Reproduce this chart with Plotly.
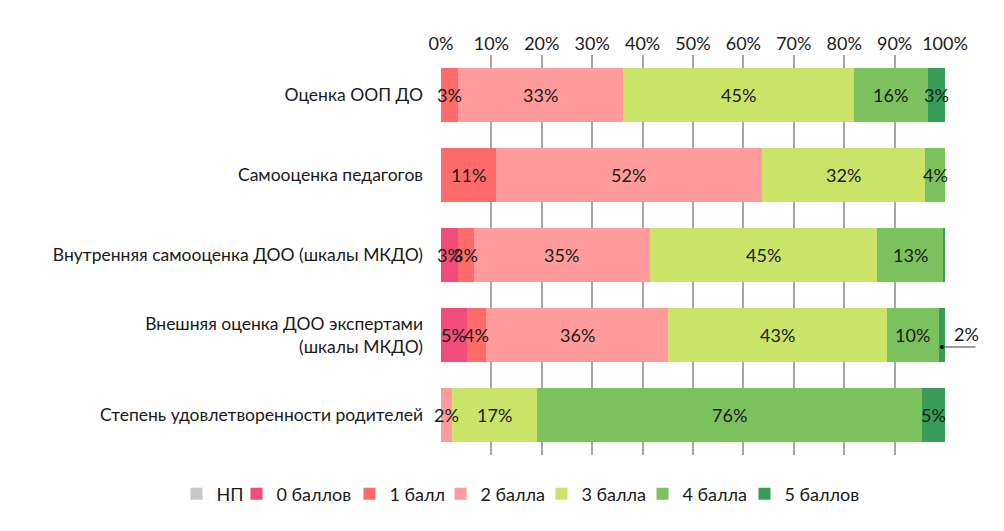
import plotly.graph_objects as go

categories = [
    "Оценка ООП ДО",
    "Самооценка педагогов",
    "Внутренняя самооценка ДОО (шкалы МКДО)",
    "Внешняя оценка ДОО экспертами<br>(шкалы МКДО)",
    "Степень удовлетворенности родителей",
]

series_names = ["НП", "0 баллов", "1 балл", "2 балла", "3 балла", "4 балла", "5 баллов"]
colors = ["#C8C8C8", "#F24C7A", "#FF6B6B", "#FF9B9B", "#CAE46A", "#7BC25E", "#389D58"]

np_vals = [0, 0, 0, 0, 0]
b0_vals = [0, 0, 3.3, 5.1, 0]
b1_vals = [3.4, 10.9, 3.3, 3.9, 0]
b2_vals = [32.7, 52.8, 34.8, 36.1, 2.1]
b3_vals = [45.8, 32.4, 45.2, 43.3, 17.0]
b4_vals = [14.7, 3.9, 13.0, 10.4, 76.4]
b5_vals = [3.4, 0, 0.4, 1.2, 4.5]

np_lbl = ["", "", "", "", ""]
b0_lbl = ["", "", "3%", "5%", ""]
b1_lbl = ["3%", "11%", "3%", "4%", ""]
b2_lbl = ["33%", "52%", "35%", "36%", "2%"]
b3_lbl = ["45%", "32%", "45%", "43%", "17%"]
b4_lbl = ["16%", "4%", "13%", "10%", "76%"]
b5_lbl = ["3%", "", "", "", "5%"]

# label drawn with a leader line (row index, text)
leader_row = 3
leader_text = "2%"

x_ticks = list(range(0, 101, 10))

values = [np_vals, b0_vals, b1_vals, b2_vals, b3_vals, b4_vals, b5_vals]
labels = [np_lbl, b0_lbl, b1_lbl, b2_lbl, b3_lbl, b4_lbl, b5_lbl]

FONT = "Lato"
TXT = "#1a1a1a"
ypos = list(range(len(categories)))

# page body adds an 8px offset; figure is sized so the plot area lands at 441..945 x 55..455
W, H = 996, 523
ML, MR, MT, MB = 433, 59, 47, 76
PW = W - ML - MR

# left edges (page px) of the individual legend entries
legend_left_px = [176.5, 236.5, 349.5, 440.5, 541.5, 642.5, 744.5]
legend_y = -0.0975

fig = go.Figure()
legend_layouts = {}
for k, (name, col, vals) in enumerate(zip(series_names, colors, values)):
    key = "legend" if k == 0 else f"legend{k + 1}"
    fig.add_trace(go.Bar(
        y=ypos, x=vals, name=name, orientation="h",
        marker=dict(color=col, line=dict(width=0)),
        hoverinfo="skip", legend=key,
    ))
    legend_layouts[key] = dict(
        orientation="h", x=(legend_left_px[k] - 8 - ML) / PW, xanchor="left",
        y=legend_y, yanchor="middle",
        font=dict(family=FONT, size=18, color=TXT),
        itemclick=False, itemdoubleclick=False, bgcolor="rgba(0,0,0,0)",
    )

annotations = []
cum = [0.0] * len(categories)
for vals, lbls in zip(values, labels):
    for i, (v, t) in enumerate(zip(vals, lbls)):
        if t:
            annotations.append(dict(
                x=cum[i] + v / 2, y=i, xref="x", yref="y", text=t,
                showarrow=False, font=dict(family=FONT, size=18, color=TXT),
            ))
        cum[i] += v

# leader for last segment of row 4
start5 = sum(v[leader_row] for v in values[:-1])
mid5 = start5 + b5_vals[leader_row] / 2
ly = leader_row + 0.15
fig.add_trace(go.Scatter(
    x=[mid5], y=[ly], mode="markers",
    marker=dict(color="#000000", size=4), cliponaxis=False,
    showlegend=False, hoverinfo="skip",
))
annotations.append(dict(
    x=mid5, y=ly, xref="x", yref="y", text="",
    showarrow=True, arrowhead=0, arrowwidth=1, arrowcolor="#404040",
    ax=35, ay=0, standoff=0, startstandoff=0,
))
annotations.append(dict(
    x=mid5, y=ly, xref="x", yref="y", text=leader_text, xshift=25,
    yanchor="bottom", showarrow=False,
    font=dict(family=FONT, size=18, color=TXT),
))

fig.update_layout(
    template="none",
    barmode="stack",
    bargap=0.32,
    width=W, height=H,
    margin=dict(l=ML, r=MR, t=MT, b=MB, autoexpand=False),
    paper_bgcolor="white", plot_bgcolor="white",
    font=dict(family=FONT, size=18, color=TXT),
    annotations=annotations,
    showlegend=True,
    xaxis=dict(
        side="top", range=[0, 100], tickvals=x_ticks,
        ticktext=[f"{t}%" for t in x_ticks],
        showgrid=True, gridcolor="#A6A6A6", gridwidth=1.5,
        zeroline=False, showline=False, ticks="", automargin=False,
        tickfont=dict(family=FONT, size=18, color=TXT),
        fixedrange=True,
    ),
    yaxis=dict(
        range=[len(categories) - 0.5, -0.5],
        tickvals=ypos, ticktext=categories,
        showgrid=False, zeroline=False, showline=False, ticks="",
        automargin=False, ticklabelstandoff=17,
        tickfont=dict(family=FONT, size=17.5, color=TXT),
        fixedrange=True,
    ),
    **legend_layouts,
)

fig.write_html("out.html")
